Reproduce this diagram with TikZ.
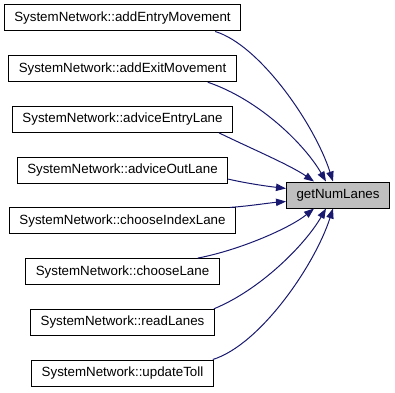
\documentclass[tikz,border=0pt]{standalone}
\usepackage{fontspec}
\setmainfont{Liberation Sans}
\usepackage{tikz}
\usetikzlibrary{arrows.meta,calc}
\definecolor{edgeblue}{RGB}{25,25,112}
\definecolor{calleegray}{RGB}{191,191,191}

\begin{document}
\begin{tikzpicture}[x=0.75pt, y=-0.75pt,
    caller/.style={rectangle, draw=black, fill=white, line width=0.75pt, inner xsep=7.5pt, minimum height=19.5pt, font=\fontsize{10}{12}\selectfont},
    callee/.style={caller, fill=calleegray},
    edge/.style={draw=edgeblue, line width=0.75pt, -{Triangle[length=7.5pt,width=5.5pt]}}
  ]
    \useasboundingbox (0,0) rectangle (395,392);

    % Callers, one column
    \node[caller] (entry)  at (122.5,18)    {SystemNetwork::addEntryMovement};
    \node[caller] (exit)   at (122.5,68.7)  {SystemNetwork::addExitMovement};
    \node[caller] (advin)  at (122.5,119.4) {SystemNetwork::adviceEntryLane};
    \node[caller] (advout) at (122.5,170.1) {SystemNetwork::adviceOutLane};
    \node[caller] (chidx)  at (122.5,220.9) {SystemNetwork::chooseIndexLane};
    \node[caller] (chlane) at (122.5,271.6) {SystemNetwork::chooseLane};
    \node[caller] (read)   at (122.5,322.3) {SystemNetwork::readLanes};
    \node[caller] (toll)   at (122.5,373)   {SystemNetwork::updateToll};

    % Called function
    \node[callee] (lanes) at (338,195) {getNumLanes};

    % Calls
    \draw[edge] ($(entry.south east)+(-26,0)$) .. controls (260,45) and (315,125) .. ($(lanes.north west)+(47,0)$);
    \draw[edge] ($(exit.south east)+(-29,0)$) .. controls (260,100) and (305,145) .. ($(lanes.north west)+(40,0)$);
    \draw[edge] ($(advin.south east)+(-14,0)$) .. controls (250,148) and (290,165) .. ($(lanes.north west)+(28,0)$);
    \draw[edge] ($(advout.east)+(0,9)$) .. controls (245,183) and (265,186) .. ($(lanes.north west)+(0,7)$);
    \draw[edge] ($(chidx.north east)+(-6,0)$) .. controls (250,206) and (268,203) .. ($(lanes.south west)+(0,-7)$);
    \draw[edge] ($(chlane.north east)+(-22,0)$) .. controls (240,250) and (290,228) .. ($(lanes.south west)+(28,0)$);
    \draw[edge] ($(read.north east)+(-1,0)$) .. controls (260,290) and (305,245) .. ($(lanes.south west)+(40,0)$);
    \draw[edge] ($(toll.north east)+(-1,0)$) .. controls (260,345) and (315,265) .. ($(lanes.south west)+(47,0)$);
  \end{tikzpicture}
\end{document}
